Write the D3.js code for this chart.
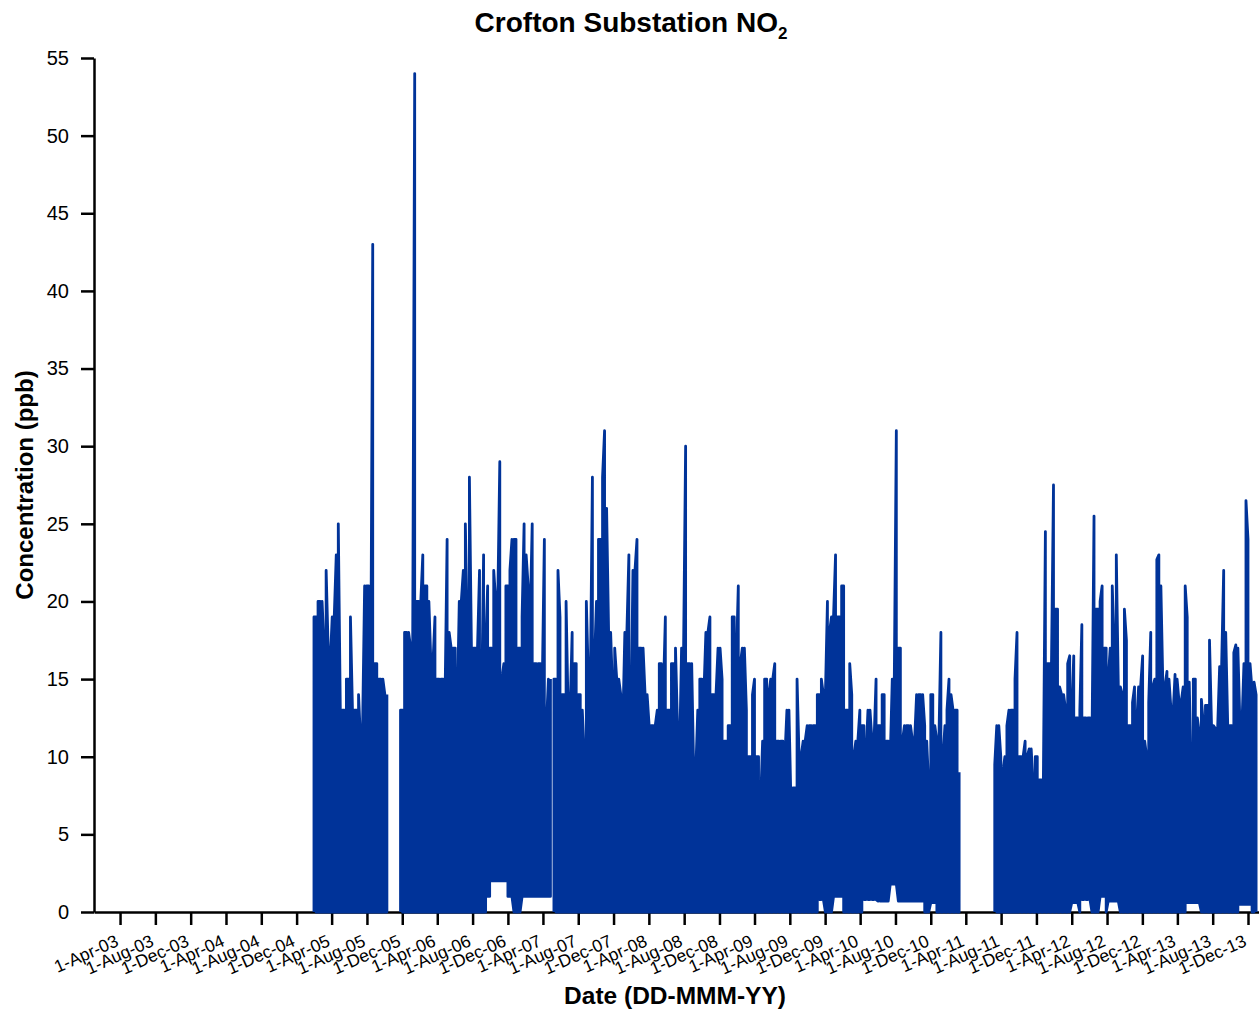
<!DOCTYPE html>
<html>
<head>
<meta charset="utf-8">
<script src="https://cdn.jsdelivr.net/npm/d3@7"></script>
<style>
  body { margin: 0; background: #fff; }
  svg { display: block; font-family: "Liberation Sans", Arial, Helvetica, sans-serif; }
</style>
</head>
<body>
<svg id="chart" width="1259" height="1011"></svg>
<script>
// weekly maxima (ppb), one value per 7 days from each segment start
var seg1Start = "2005-01-30";
var seg1Max = [19,19,20,20,20,17,22,17,16,19,19,23,25,13,13,13,15,15,19,13,
  13,13,14,11,12,21,21,21,14,43,16,16,15,15,15,14,14];

var seg2Start = "2005-11-25";
var seg2Max = [13,13,18,18,18,17,17,54,20,20, 20,23,21,21,20,16,16,19,15,15,
  15,15,14,24,18,17,17,17,13,20, 20,22,25,18,28,17,17,17,17,22,
  13,23,17,21,17,17,22,20,20,29, 15,16,21,21,22,24,24,24,17,17,
  19,25,23,21,19,25,16,16,16,16, 15,24,12,15,15];

var seg3Start = "2007-05-09";
var seg3Max = [15,15,22,19,14,14,20,13,13,18, 16,16,14,14,13,10,20,15,15,28,
  16,20,24,24,28,31,26,18,18,14, 17,15,15,14,12,18,18,23,12,22,
  22,24,17,17,17,14,14,12,12,12, 12,13,16,16,14,19,13,13,16,16,
  17,12,10,17,17,30,16,16,16,9, 9,13,15,15,14,18,18,19,14,14,
  14,17,17,15,11,11,12,12,19,19, 16,21,16,17,17,13,10,10,14,15,
  10,10,7,11,15,15,14,15,15,16, 11,11,11,11,10,13,13,7,8,8,
  15,10,10,11,11,12,12,12,12,12, 14,14,15,14,14,20,18,19,19,23,
  19,19,21,21,13,13,16,14,10,11, 11,13,12,12,10,13,13,11,11,15,
  12,12,14,14,11,11,10,15,15,31, 17,17,11,12,12,12,12,11,11,14,
  14,14,14,12,11,8,14,14,12,11, 11,18,10,12,13,15,14,13,13,13,9];

var seg4Start = "2011-07-10";
var seg4Max = [9.5,12,12,10,9,10,12,13,13,13, 15,18,10,10,10,11,10,10.5,10.5,8,
  10,10,8.5,8.5,8.5,24.5,16,16,16,27.5, 19.5,19.5,14.5,14,14,13,16,16.5,13,16.5,
  12.5,12.5,13,18.5,12.5,12.5,12.5,12.5,11,25.5, 19.5,19.5,20,21,17,17,15,17,21,17,
  23,14.5,14.5,14,19.5,17.5,12,12,13.5,14.5, 12,14.5,14.5,16.5,11,10,13.5,18,14.5,15,
  22.7,23,21,14.5,14.5,15.5,15,13,12.7,15.3, 15,13.5,13.5,14.5,21,19,14.8,8.5,15,15,
  12.5,11.5,13.7,12,13.3,13.3,17.5,12,12,11.8, 11.8,15.8,16,22,18,12,12,12,16.7,17.2,
  17,12.2,12,16,26.5,24,16,14.3,14.8,14];

// periods where the hourly minimum stays above zero
var floorSpans = [
  ["2006-09-16","2006-09-30",1], ["2006-09-30","2006-12-01",2], ["2006-12-01","2006-12-19",1],
  ["2007-01-18","2007-04-29",1],
  ["2009-11-07","2009-11-30",0.8], ["2009-12-29","2010-02-02",1], ["2010-04-11","2010-06-01",0.8],
  ["2010-06-01","2010-07-12",0.7], ["2010-07-12","2010-08-09",1.8], ["2010-08-09","2010-11-09",0.7],
  ["2010-12-01","2010-12-22",0.6],
  ["2012-03-31","2012-04-23",0.6], ["2012-05-03","2012-06-07",0.8], ["2012-07-07","2012-07-24",1],
  ["2012-08-05","2012-09-14",0.7], ["2013-05-01","2013-06-18",0.6], ["2013-10-28","2013-12-12",0.5]
];

var yTicks = [0,5,10,15,20,25,30,35,40,45,50,55];
var xStart = "2003-01-01", xEnd = "2014-02-15";
var firstTick = "2003-04-01", lastTick = "2013-12-01";

var parseDate = d3.utcParse("%Y-%m-%d");
var svg = d3.select("#chart");

var x = d3.scaleUtc()
  .domain([parseDate(xStart), parseDate(xEnd)])
  .range([94, 1270]);
var y = d3.scaleLinear()
  .domain([0, 55])
  .range([912, 58]);

var tickDates = d3.utcMonth.range(parseDate(firstTick), d3.utcDay.offset(parseDate(lastTick), 1), 4);

// x axis
var xAxis = svg.append("g")
  .attr("transform", "translate(0,912)")
  .call(d3.axisBottom(x)
    .tickValues(tickDates)
    .tickSize(13)
    .tickSizeOuter(0)
    .tickFormat(d3.utcFormat("%-d-%b-%y")));
xAxis.selectAll("text")
  .attr("x", -1)
  .attr("y", 0)
  .attr("dy", 0)
  .attr("text-anchor", "end")
  .attr("transform", "translate(0,33) rotate(-24)")
  .style("font-size", "17.5px");

// y axis
var yAxis = svg.append("g")
  .attr("transform", "translate(94,0)")
  .call(d3.axisLeft(y)
    .tickValues(yTicks)
    .tickSize(13)
    .tickSizeOuter(0)
    .tickPadding(12));
yAxis.selectAll("text").style("font-size", "20px");

svg.selectAll(".domain, .tick line")
  .attr("stroke", "#000")
  .attr("stroke-width", 2.5);
svg.selectAll(".tick text")
  .attr("fill", "#000")
  .style("font-family", "'Liberation Sans', Arial, sans-serif");

// data
function floorAt(t) {
  for (var i = 0; i < floorSpans.length; i++) {
    var f = floorSpans[i];
    if (t >= parseDate(f[0]) && t < parseDate(f[1])) return f[2];
  }
  return 0;
}

var segments = [
  {start: seg1Start, values: seg1Max},
  {start: seg2Start, values: seg2Max},
  {start: seg3Start, values: seg3Max},
  {start: seg4Start, values: seg4Max}
];

var line = d3.line()
  .x(function (d) { return x(d[0]); })
  .y(function (d) { return y(d[1]); });

segments.forEach(function (seg) {
  var t0 = parseDate(seg.start);
  var pts = [];
  seg.values.forEach(function (v, i) {
    var t = d3.utcDay.offset(t0, i * 7);
    var lo = floorAt(t);
    if (i % 2 === 0) { pts.push([t, lo], [t, v]); }
    else { pts.push([t, v], [t, lo]); }
  });
  svg.append("path")
    .datum(pts)
    .attr("d", line)
    .attr("fill", "none")
    .attr("stroke", "#003399")
    .attr("stroke-width", 2.8)
    .attr("stroke-linejoin", "round");
});

// titles
var title = svg.append("text")
  .attr("x", 631)
  .attr("y", 32)
  .attr("text-anchor", "middle")
  .style("font-size", "28px")
  .style("font-weight", "bold")
  .text("Crofton Substation NO");
title.append("tspan")
  .attr("dy", 7)
  .style("font-size", "17px")
  .text("2");

svg.append("text")
  .attr("x", 675)
  .attr("y", 1004)
  .attr("text-anchor", "middle")
  .style("font-size", "24.5px")
  .style("font-weight", "bold")
  .text("Date (DD-MMM-YY)");

svg.append("text")
  .attr("transform", "translate(33,485) rotate(-90)")
  .attr("text-anchor", "middle")
  .style("font-size", "24px")
  .style("font-weight", "bold")
  .text("Concentration (ppb)");
</script>
</body>
</html>
